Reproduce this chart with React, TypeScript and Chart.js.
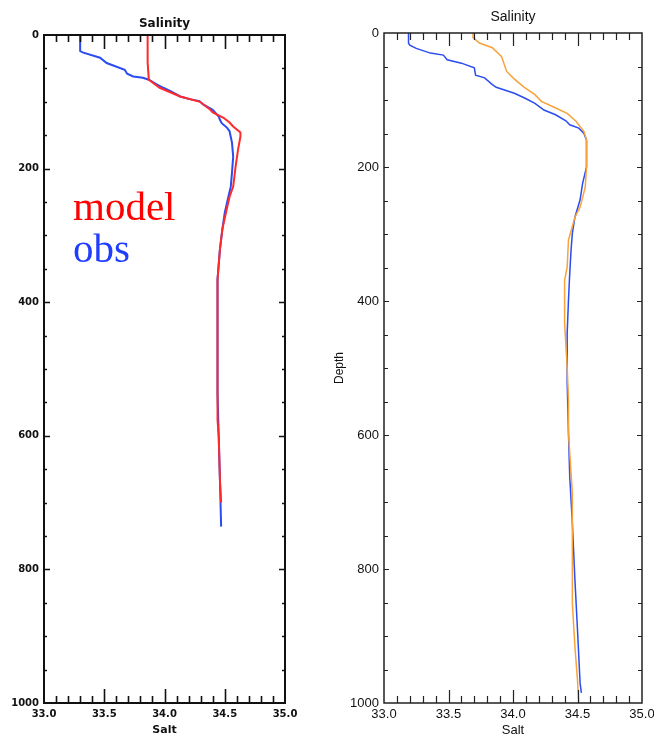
import React, { useEffect, useRef } from 'react';
import { Chart, registerables } from 'chart.js';

Chart.register(...registerables);

// ---------- Data ----------
// Left panel: obs (blue) and model (red)
const LEFT_OBS_DEPTH = [0, 24, 26, 34, 42, 52, 58, 62, 64, 67, 74, 79, 84, 92, 96, 99, 104, 112, 122, 127, 132, 139, 144, 161, 182, 206, 227, 242, 266, 291, 321, 366, 446, 536, 601, 666, 736];
const LEFT_OBS_SALT = [33.30, 33.30, 33.32, 33.465, 33.52, 33.67, 33.69, 33.74, 33.82, 33.87, 33.935, 33.99, 34.05, 34.13, 34.21, 34.29, 34.32, 34.40, 34.45, 34.46, 34.475, 34.52, 34.54, 34.56, 34.57, 34.56, 34.55, 34.53, 34.50, 34.48, 34.46, 34.44, 34.44, 34.44, 34.45, 34.46, 34.47];
const LEFT_MODEL_DEPTH = [0, 41, 67, 79, 92, 100, 112, 116, 124, 131, 137, 146, 152, 172, 197, 227, 242, 266, 291, 321, 366, 441, 516, 576, 601, 666, 700];
const LEFT_MODEL_SALT = [33.86, 33.86, 33.87, 33.96, 34.13, 34.295, 34.38, 34.40, 34.49, 34.54, 34.57, 34.63, 34.63, 34.61, 34.59, 34.57, 34.54, 34.51, 34.48, 34.46, 34.44, 34.44, 34.44, 34.44, 34.45, 34.46, 34.47];

// Right panel: obs (blue) and model (orange)
const RIGHT_OBS_DEPTH = [0, 15, 18, 23, 30, 33, 40, 45, 52, 63, 67, 77, 81, 90, 97, 105, 115, 122, 131, 137, 142, 150, 160, 190, 200, 224, 249, 275, 299, 324, 358, 399, 448, 522, 597, 663, 731, 816, 891, 970, 985];
const RIGHT_OBS_SALT = [33.19, 33.19, 33.20, 33.25, 33.36, 33.46, 33.49, 33.60, 33.70, 33.71, 33.78, 33.84, 33.87, 34.01, 34.09, 34.17, 34.24, 34.33, 34.41, 34.44, 34.51, 34.55, 34.57, 34.57, 34.57, 34.54, 34.52, 34.48, 34.46, 34.45, 34.44, 34.43, 34.42, 34.42, 34.43, 34.44, 34.46, 34.48, 34.50, 34.52, 34.53];
const RIGHT_MODEL_DEPTH = [0, 7, 15, 22, 35, 40, 57, 67, 80, 92, 102, 110, 120, 132, 147, 160, 200, 230, 260, 275, 309, 349, 369, 433, 499, 548, 597, 687, 851, 916, 966, 1000];
const RIGHT_MODEL_SALT = [33.69, 33.69, 33.74, 33.84, 33.91, 33.92, 33.95, 34.00, 34.08, 34.17, 34.22, 34.31, 34.42, 34.49, 34.55, 34.57, 34.57, 34.56, 34.52, 34.48, 34.43, 34.42, 34.40, 34.40, 34.42, 34.43, 34.43, 34.46, 34.46, 34.48, 34.50, 34.51];

const SALT_MIN = 33.0;
const SALT_MAX = 35.0;
const DEPTH_MIN = 0;
const DEPTH_MAX = 1000;
const SALT_MAJOR_STEP = 0.5;
const SALT_MINOR_STEP = 0.1;
const DEPTH_MAJOR_STEP = 200;
const DEPTH_MINOR_STEP = 50;

const TITLE = 'Salinity';
const X_TITLE = 'Salt';
const Y_TITLE = 'Depth';
const LEGEND_MODEL = 'model';
const LEGEND_OBS = 'obs';

// ---------- Plugin: box frame + inward ticks ----------
const framePlugin = {
  id: 'frame',
  afterDraw(chart: any, _args: any, opts: any) {
    const { ctx, chartArea } = chart;
    const { left, right, top, bottom } = chartArea;
    const xs = chart.scales.x;
    const ys = chart.scales.y;
    ctx.save();
    ctx.strokeStyle = opts.color;
    ctx.lineWidth = opts.tickWidth;
    ctx.lineCap = 'butt';
    const nx = Math.round((SALT_MAX - SALT_MIN) / SALT_MINOR_STEP);
    const every = Math.round(SALT_MAJOR_STEP / SALT_MINOR_STEP);
    for (let i = 1; i < nx; i++) {
      const v = SALT_MIN + i * SALT_MINOR_STEP;
      const px = Math.round(xs.getPixelForValue(v)) + 0.5;
      const len = i % every === 0 ? opts.xMajor : opts.xMinor;
      ctx.beginPath();
      ctx.moveTo(px, bottom);
      ctx.lineTo(px, bottom - len);
      ctx.moveTo(px, top);
      ctx.lineTo(px, top + len);
      ctx.stroke();
    }
    const ny = Math.round((DEPTH_MAX - DEPTH_MIN) / DEPTH_MINOR_STEP);
    const everyY = Math.round(DEPTH_MAJOR_STEP / DEPTH_MINOR_STEP);
    for (let i = 1; i < ny; i++) {
      const v = DEPTH_MIN + i * DEPTH_MINOR_STEP;
      const py = Math.round(ys.getPixelForValue(v)) + 0.5;
      const len = i % everyY === 0 ? opts.yMajor : opts.yMinor;
      ctx.beginPath();
      ctx.moveTo(left, py);
      ctx.lineTo(left + len, py);
      ctx.moveTo(right, py);
      ctx.lineTo(right - len, py);
      ctx.stroke();
    }
    ctx.lineWidth = opts.lineWidth;
    ctx.strokeRect(left, top, right - left, bottom - top);
    ctx.restore();
  },
};

function series(depth: number[], salt: number[]) {
  return depth.map((d, i) => ({ x: salt[i], y: d }));
}

type PanelCfg = {
  yWidth: number;
  padRight: number;
  xHeight: number;
  datasets: { label: string; depth: number[]; salt: number[]; color: string; width: number }[];
  tickFont: any;
  tickColor: string;
  xTickPad: number;
  yTickPad: number;
  titleFont: any;
  titlePad: { top: number; bottom: number };
  xTitleFont: any;
  xTitlePadBottom: number;
  yTitle: boolean;
  yTitleFont?: any;
  yTitlePadTop?: number;
  frame: any;
};

function makeChart(canvas: HTMLCanvasElement, cfg: PanelCfg) {
  return new Chart(canvas, {
    type: 'scatter',
    data: {
      datasets: cfg.datasets.map((ds) => ({
        label: ds.label,
        data: series(ds.depth, ds.salt),
        showLine: true,
        borderColor: ds.color,
        backgroundColor: ds.color,
        borderWidth: ds.width,
        pointRadius: 0,
        pointHoverRadius: 0,
        tension: 0,
        fill: false,
      })),
    },
    options: {
      responsive: false,
      animation: false,
      devicePixelRatio: 1,
      events: [],
      layout: { padding: { left: 0, top: 0, right: cfg.padRight, bottom: 0 } },
      plugins: {
        legend: { display: false },
        tooltip: { enabled: false },
        title: {
          display: true,
          text: TITLE,
          fullSize: false,
          color: cfg.tickColor,
          font: cfg.titleFont,
          padding: cfg.titlePad,
        },
        frame: cfg.frame,
      } as any,
      scales: {
        x: {
          type: 'linear',
          position: 'bottom',
          min: SALT_MIN,
          max: SALT_MAX,
          grid: { display: false, drawTicks: false },
          border: { display: false },
          ticks: {
            stepSize: SALT_MAJOR_STEP,
            autoSkip: false,
            maxRotation: 0,
            padding: cfg.xTickPad,
            font: cfg.tickFont,
            color: cfg.tickColor,
            callback: (v: any) => Number(v).toFixed(1),
          },
          title: {
            display: true,
            text: X_TITLE,
            font: cfg.xTitleFont,
            color: cfg.tickColor,
            padding: { top: 0, bottom: cfg.xTitlePadBottom },
          },
          afterFit: (s: any) => {
            s.height = cfg.xHeight;
            s.paddingLeft = 0;
            s.paddingRight = 0;
          },
        },
        y: {
          type: 'linear',
          position: 'left',
          reverse: true,
          min: DEPTH_MIN,
          max: DEPTH_MAX,
          grid: { display: false, drawTicks: false },
          border: { display: false },
          ticks: {
            stepSize: DEPTH_MAJOR_STEP,
            autoSkip: false,
            padding: cfg.yTickPad,
            font: cfg.tickFont,
            color: cfg.tickColor,
            callback: (v: any) => String(v),
          },
          title: {
            display: cfg.yTitle,
            text: Y_TITLE,
            font: cfg.yTitleFont,
            color: cfg.tickColor,
            padding: { top: cfg.yTitlePadTop ?? 0, bottom: 0 },
          },
          afterFit: (s: any) => {
            s.width = cfg.yWidth;
            s.paddingTop = 0;
            s.paddingBottom = 0;
          },
        },
      },
    } as any,
    plugins: [framePlugin],
  });
}

const PANEL_W = 327;
const PANEL_H = 744;
const SANS = "'Liberation Sans', Arial, sans-serif";

export default function App() {
  const leftRef = useRef<HTMLCanvasElement>(null);
  const rightRef = useRef<HTMLCanvasElement>(null);

  useEffect(() => {
    const left = makeChart(leftRef.current!, {
      yWidth: 44,
      padRight: PANEL_W - 285,
      xHeight: 41,
      datasets: [
        { label: LEGEND_MODEL, depth: LEFT_MODEL_DEPTH, salt: LEFT_MODEL_SALT, color: '#ff2a2a', width: 2 },
        { label: LEGEND_OBS, depth: LEFT_OBS_DEPTH, salt: LEFT_OBS_SALT, color: '#2b4cf0', width: 2 },
      ],
      tickFont: { family: "'DejaVu Sans'", size: 10, weight: 'bold' },
      tickColor: '#111111',
      xTickPad: 5,
      yTickPad: 5,
      titleFont: { family: "'DejaVu Sans'", size: 12, weight: 'bold' },
      titlePad: { top: 16.8, bottom: 3.8 },
      xTitleFont: { family: "'DejaVu Sans'", size: 11, weight: 'bold' },
      xTitlePadBottom: 7.4,
      yTitle: false,
      frame: { color: '#111111', lineWidth: 2, tickWidth: 1.6, xMajor: 14, xMinor: 7, yMajor: 6, yMinor: 3 },
    });
    const right = makeChart(rightRef.current!, {
      yWidth: 57,
      padRight: PANEL_W - 315,
      xHeight: 41,
      datasets: [
        { label: LEGEND_MODEL, depth: RIGHT_MODEL_DEPTH, salt: RIGHT_MODEL_SALT, color: '#f7a23c', width: 1.5 },
        { label: LEGEND_OBS, depth: RIGHT_OBS_DEPTH, salt: RIGHT_OBS_SALT, color: '#2b4cf0', width: 1.5 },
      ],
      tickFont: { family: SANS, size: 13, weight: 'normal' },
      tickColor: '#111111',
      xTickPad: 4,
      yTickPad: 5,
      titleFont: { family: SANS, size: 14, weight: 'normal' },
      titlePad: { top: 8.6, bottom: 7.6 },
      xTitleFont: { family: SANS, size: 13, weight: 'normal' },
      xTitlePadBottom: 6.2,
      yTitle: true,
      yTitleFont: { family: SANS, size: 12, weight: 'normal' },
      yTitlePadTop: 5.8,
      frame: { color: '#222222', lineWidth: 1.5, tickWidth: 1.2, xMajor: 13, xMinor: 7, yMajor: 5, yMinor: 4 },
    });
    return () => {
      left.destroy();
      right.destroy();
    };
  }, []);

  const legendStyle: React.CSSProperties = {
    position: 'absolute',
    left: 73,
    fontFamily: "'Liberation Serif', 'Times New Roman', serif",
    fontSize: 41,
    lineHeight: '41px',
    whiteSpace: 'nowrap',
  };

  return (
    <div style={{ position: 'absolute', left: 0, top: 0, width: 654, height: 744, background: '#ffffff', overflow: 'hidden' }}>
      <canvas
        ref={leftRef}
        width={PANEL_W}
        height={PANEL_H}
        style={{ position: 'absolute', left: 0, top: 0, width: PANEL_W, height: PANEL_H }}
      />
      <canvas
        ref={rightRef}
        width={PANEL_W}
        height={PANEL_H}
        style={{ position: 'absolute', left: PANEL_W, top: 0, width: PANEL_W, height: PANEL_H }}
      />
      <div style={{ ...legendStyle, top: 186, color: '#ff0000' }}>{LEGEND_MODEL}</div>
      <div style={{ ...legendStyle, top: 228, color: '#1f3dff' }}>{LEGEND_OBS}</div>
    </div>
  );
}
